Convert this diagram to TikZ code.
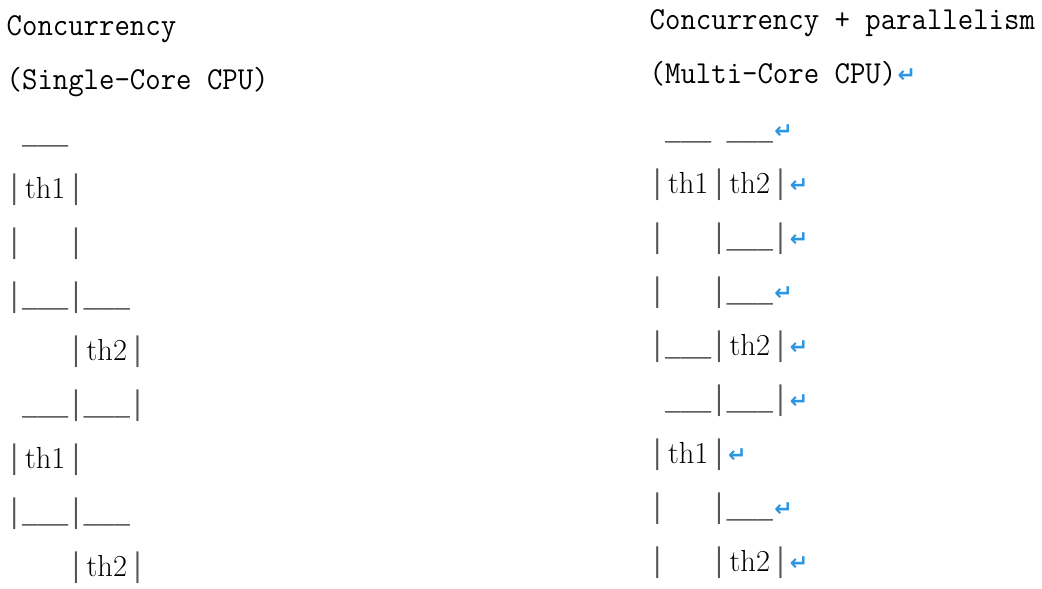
\documentclass[tikz,border=0pt]{standalone}
\usepackage{fontspec}
\usepackage{tikz}
\usetikzlibrary{positioning}
\newfontfamily\headfont[FakeStretch=0.935]{Latin Modern Mono}
\newfontfamily\artfont[FakeStretch=0.755]{Liberation Mono}
\newfontfamily\retfont{DejaVu Sans}
\definecolor{retblue}{RGB}{45, 150, 225}
\definecolor{artgray}{RGB}{85, 85, 85}
% one blank cell of the text grid
\newcommand{\cellsp}{\hphantom{\_}}
% thread label, three cells wide
\newcommand{\thcell}[1]{\setbox0\hbox{\_\_\_}\hbox to \wd0{\hss\color{black}\fontsize{30.5}{30.5}\rmfamily #1\hss}}
% paragraph mark
\newcommand{\retmark}{\kern1.5pt{\retfont\bfseries\fontsize{22}{22}\selectfont\color{retblue}\raisebox{1pt}{↵}}}

\begin{document}
\begin{tikzpicture}[
        x=1pt, y=-1pt,
        % Styles
        row/.style={anchor=base west, inner sep=0pt},
        head/.style={row, text=black, font=\headfont\fontsize{32}{32}\selectfont},
        art/.style={row, text=artgray, font=\artfont\fontsize{34}{34}\selectfont}
    ]
    \useasboundingbox (0,0) rectangle (1042,589);

    % ==============================
    % 1. SINGLE-CORE
    % ==============================
    \node[head] (single_title) at (6.5,35.7) {Concurrency};
    \node[head] (single_cpu) at (6.5,89.8) {(Single-Core CPU)};

    \node[art] (s3) at (6.5,143.9) {\cellsp\_\_\_};
    \node[art] (s4) at (6.5,198.0) {|\thcell{th1}|};
    \node[art] (s5) at (6.5,252.1) {|\cellsp\cellsp\cellsp|};
    \node[art] (s6) at (6.5,306.2) {|\_\_\_|\_\_\_};
    \node[art] (s7) at (6.5,360.3) {\cellsp\cellsp\cellsp\cellsp|\thcell{th2}|};
    \node[art] (s8) at (6.5,414.4) {\cellsp\_\_\_|\_\_\_|};
    \node[art] (s9) at (6.5,468.5) {|\thcell{th1}|};
    \node[art] (s10) at (6.5,522.6) {|\_\_\_|\_\_\_};
    \node[art] (s11) at (6.5,576.7) {\cellsp\cellsp\cellsp\cellsp|\thcell{th2}|};

    % ==============================
    % 2. MULTI-CORE
    % ==============================
    \node[head] (multi_title) at (649.5,29) {Concurrency + parallelism};
    \node[head] (multi_cpu) at (649.5,83) {(Multi-Core CPU)\retmark};

    \node[art] (m3) at (649.5,139) {\cellsp\_\_\_\cellsp\_\_\_\retmark};
    \node[art] (m4) at (649.5,193) {|\thcell{th1}|\thcell{th2}|\retmark};
    \node[art] (m5) at (649.5,247) {|\cellsp\cellsp\cellsp|\_\_\_|\retmark};
    \node[art] (m6) at (649.5,301) {|\cellsp\cellsp\cellsp|\_\_\_\retmark};
    \node[art] (m7) at (649.5,355) {|\_\_\_|\thcell{th2}|\retmark};
    \node[art] (m8) at (649.5,409) {\cellsp\_\_\_|\_\_\_|\retmark};
    \node[art] (m9) at (649.5,463) {|\thcell{th1}|\retmark};
    \node[art] (m10) at (649.5,517) {|\cellsp\cellsp\cellsp|\_\_\_\retmark};
    \node[art] (m11) at (649.5,571) {|\cellsp\cellsp\cellsp|\thcell{th2}|\retmark};

    \end{tikzpicture}
\end{document}
